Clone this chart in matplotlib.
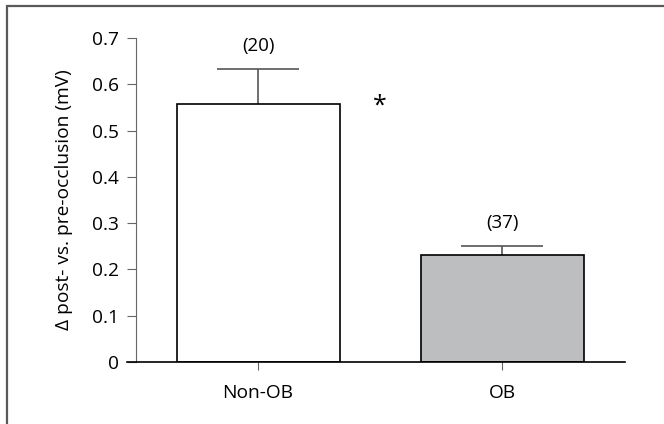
import numpy as np
import matplotlib.pyplot as plt
from matplotlib.patches import Rectangle

plt.rcParams['font.family'] = ['Open Sans', 'DejaVu Sans']

################################ Data ##########################################
groups = ['Non-OB', 'OB']
means = [0.557, 0.231]
sems = [0.077, 0.019]
n_labels = ['(20)', '(37)']
bar_colors = ['white', '#bdbec0']
yticks = [0, 0.1, 0.2, 0.3, 0.4, 0.5, 0.6, 0.7]
ytick_labels = ['0', '0.1', '0.2', '0.3', '0.4', '0.5', '0.6', '0.7']

################################ Plot ##########################################
fig = plt.figure(figsize=(6.64, 4.24), dpi=100)
# outer frame, cut off on the right and bottom
fig.patches.append(Rectangle((7/664, -0.1), 1.2, 1.1 - 6/424, transform=fig.transFigure,
                             fill=False, edgecolor='#5a5a5a', linewidth=1.6))

ax = fig.add_axes([127/664, 1 - 362/424, 498/664, 324/424])
x = np.arange(len(groups))
bw = 0.668
ax.bar(x, means, width=bw, color=bar_colors, edgecolor='black', linewidth=1.2, zorder=2)
# upper error bars only
tops = np.array(means) + np.array(sems)
ax.vlines(x, means, tops, color='#555555', linewidth=1.2, zorder=1)
ax.hlines(tops, x - 0.168, x + 0.168, color='#555555', linewidth=1.2, zorder=1)

for xi, t, lab in zip(x, tops, n_labels):
    ax.text(xi, t + 0.03, lab, ha='center', va='bottom', fontsize=13.5)
ax.text(0.5, 0.553, '*', ha='center', va='center', fontsize=18)

ax.set_xlim(-0.537, 1.504)
ax.set_ylim(0, 0.7)
ax.set_xticks(x)
ax.set_xticklabels(groups)
ax.set_yticks(yticks)
ax.set_yticklabels(ytick_labels)
ax.set_ylabel('Δ post- vs. pre-occlusion (mV)', fontsize=13.8)
ax.yaxis.set_label_coords(-(127 - 73) / 498, 0.5)

ax.spines['top'].set_visible(False)
ax.spines['right'].set_visible(False)
ax.spines['left'].set_position(('axes', 9 / 498))
ax.spines['left'].set_color('#666666')
ax.spines['bottom'].set_color('black')
ax.spines['bottom'].set_linewidth(1.2)
ax.tick_params(axis='y', direction='out', length=6.5, color='#666666', pad=6, labelsize=13.8)
ax.tick_params(axis='x', direction='out', length=6, color='#666666', pad=10, labelsize=13.8)

fig.savefig('out.png', dpi=100)
